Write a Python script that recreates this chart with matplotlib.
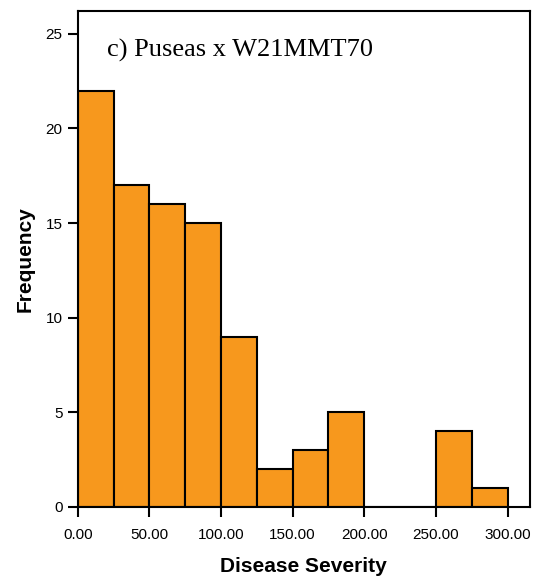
import matplotlib
matplotlib.use("Agg")
import matplotlib.pyplot as plt
import numpy as np

# Histogram of disease severity: bin edges and counts per bin
bin_edges = [0, 25, 50, 75, 100, 125, 150, 175, 200, 225, 250, 275, 300]
counts = [22, 17, 16, 15, 9, 2, 3, 5, 0, 0, 4, 1]
x_ticks = [0, 50, 100, 150, 200, 250, 300]
x_tick_labels = ["0.00", "50.00", "100.00", "150.00", "200.00", "250.00", "300.00"]
y_ticks = [0, 5, 10, 15, 20, 25]
title_text = "c) Puseas x W21MMT70"

fig = plt.figure(figsize=(5.41, 5.83), dpi=100)
ax = fig.add_axes([0.1436, 0.1304, 0.836, 0.8507])

edges = np.array(bin_edges, dtype=float)
ax.bar(edges[:-1], counts, width=np.diff(edges), align="edge",
       color="#F7981D", edgecolor="black", linewidth=1.5)

ax.set_xlim(0, 315.6)
ax.set_ylim(0, 26.2)
ax.set_xticks(x_ticks)
ax.set_xticklabels(x_tick_labels, fontsize=11, family="Liberation Sans")
ax.set_yticks(y_ticks)
ax.set_yticklabels([str(v) for v in y_ticks], fontsize=11, family="Liberation Sans")
ax.tick_params(direction="out", length=7, width=1.5)
ax.tick_params(axis="x", pad=8)
ax.tick_params(axis="y", pad=4)
for s in ax.spines.values():
    s.set_linewidth(1.5)

ax.set_xlabel("Disease Severity", fontsize=15, fontweight="bold",
              family="Liberation Sans", labelpad=11)
ax.set_ylabel("Frequency", fontsize=15, fontweight="bold",
              family="Liberation Sans", labelpad=8)

ax.text(0.065, 0.921, title_text, transform=ax.transAxes, fontsize=19,
        family="Liberation Serif", ha="left", va="center")

fig.savefig("out.png", dpi=100)
